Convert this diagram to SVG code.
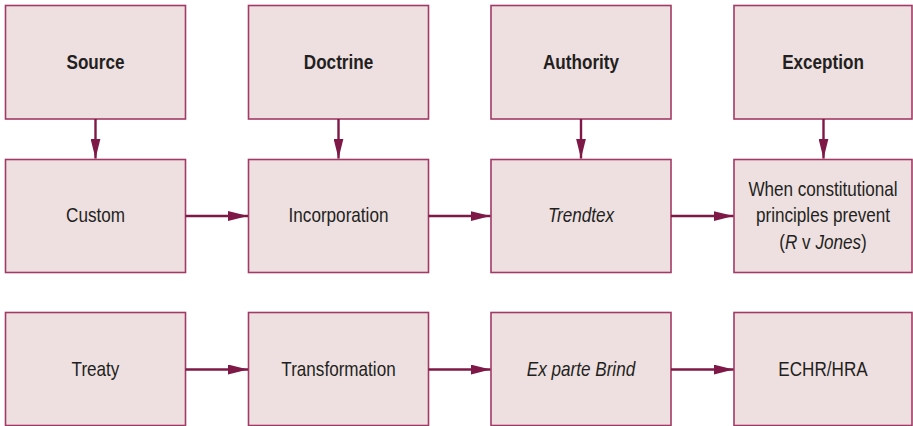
<svg xmlns="http://www.w3.org/2000/svg" width="913" height="426" viewBox="0 0 913 426">
  <style>
    .box { fill: #EEDFE1; stroke: #A23A66; stroke-width: 1.6; }
    .lbl { font-family: "Liberation Sans", Arial, sans-serif; font-size: 21px; fill: #231F20; text-anchor: middle; }
    .head { font-weight: bold; }
    .it { font-style: italic; }
    .conn { stroke: #7E1846; stroke-width: 2.4; fill: none; }
  </style>
  <defs>
    <marker id="arrow" viewBox="0 0 20 10" refX="20" refY="5" markerWidth="20" markerHeight="10" markerUnits="userSpaceOnUse" orient="auto">
      <path d="M0,0 L20,5 L0,10 Z" fill="#7E1846"/>
    </marker>
  </defs>

  <!-- Row 1: headings (labels condensed horizontally) -->
  <g id="source"><rect class="box" x="5.5" y="5.5" width="180" height="113.5"/><text class="lbl head" transform="translate(95.5 69) scale(0.815 1)">Source</text></g>
  <g id="doctrine"><rect class="box" x="248.5" y="5.5" width="180" height="113.5"/><text class="lbl head" transform="translate(338.5 69) scale(0.815 1)">Doctrine</text></g>
  <g id="authority"><rect class="box" x="491" y="5.5" width="180" height="113.5"/><text class="lbl head" transform="translate(581 69) scale(0.815 1)">Authority</text></g>
  <g id="exception"><rect class="box" x="734" y="5.5" width="178" height="113.5"/><text class="lbl head" transform="translate(823 69) scale(0.815 1)">Exception</text></g>

  <!-- Row 2: custom -->
  <g id="custom"><rect class="box" x="5.5" y="159.5" width="180" height="113"/><text class="lbl" transform="translate(95.5 222) scale(0.815 1)">Custom</text></g>
  <g id="incorporation"><rect class="box" x="248.5" y="159.5" width="180" height="113"/><text class="lbl" transform="translate(338.5 222) scale(0.815 1)">Incorporation</text></g>
  <g id="trendtex"><rect class="box" x="491" y="159.5" width="180" height="113"/><text class="lbl it" transform="translate(581 222) scale(0.815 1)">Trendtex</text></g>
  <g id="constitutional"><rect class="box" x="734" y="159.5" width="178" height="113"/>
    <text class="lbl" transform="translate(823 195.5) scale(0.815 1)">When constitutional</text>
    <text class="lbl" transform="translate(823 222) scale(0.815 1)">principles prevent</text>
    <text class="lbl" transform="translate(823 248.5) scale(0.815 1)">(<tspan class="it">R</tspan> v <tspan class="it">Jones</tspan>)</text>
  </g>

  <!-- Row 3: treaty -->
  <g id="treaty"><rect class="box" x="5.5" y="312.5" width="180" height="113"/><text class="lbl" transform="translate(95.5 376) scale(0.815 1)">Treaty</text></g>
  <g id="transformation"><rect class="box" x="248.5" y="312.5" width="180" height="113"/><text class="lbl" transform="translate(338.5 376) scale(0.815 1)">Transformation</text></g>
  <g id="brind"><rect class="box" x="491" y="312.5" width="180" height="113"/><text class="lbl it" transform="translate(581 376) scale(0.815 1)">Ex parte Brind</text></g>
  <g id="echr"><rect class="box" x="734" y="312.5" width="178" height="113"/><text class="lbl" transform="translate(823 376) scale(0.815 1)">ECHR/HRA</text></g>

  <!-- Connectors -->
  <g id="connectors">
    <line class="conn" x1="95.5" y1="119" x2="95.5" y2="158.5" marker-end="url(#arrow)"/>
    <line class="conn" x1="338.5" y1="119" x2="338.5" y2="158.5" marker-end="url(#arrow)"/>
    <line class="conn" x1="581" y1="119" x2="581" y2="158.5" marker-end="url(#arrow)"/>
    <line class="conn" x1="823.5" y1="119" x2="823.5" y2="158.5" marker-end="url(#arrow)"/>

    <line class="conn" x1="185.5" y1="216" x2="248" y2="216" marker-end="url(#arrow)"/>
    <line class="conn" x1="428.5" y1="216" x2="490.5" y2="216" marker-end="url(#arrow)"/>
    <line class="conn" x1="671" y1="216" x2="733.5" y2="216" marker-end="url(#arrow)"/>

    <line class="conn" x1="185.5" y1="369.5" x2="248" y2="369.5" marker-end="url(#arrow)"/>
    <line class="conn" x1="428.5" y1="369.5" x2="490.5" y2="369.5" marker-end="url(#arrow)"/>
    <line class="conn" x1="671" y1="369.5" x2="733.5" y2="369.5" marker-end="url(#arrow)"/>
  </g>
</svg>
